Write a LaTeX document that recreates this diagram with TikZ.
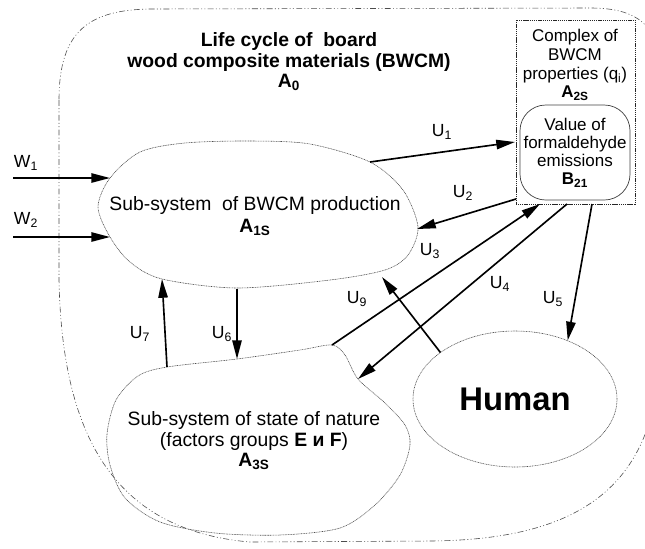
\documentclass[tikz,border=0pt]{standalone}
\usepackage{fontspec}
\setmainfont{Liberation Sans}
\usetikzlibrary{arrows.meta,shapes.geometric,positioning}

\begin{document}
\begin{tikzpicture}[
    x=0.03cm, y=-0.03cm,
    blob/.style={draw=black!70, line width=0.5pt, dash pattern=on 0.8pt off 0.6pt},
    flow/.style={-{Triangle[length=16pt, width=8pt]}, line width=1.4pt},
    lbl/.style={inner sep=0pt, font=\fontsize{15}{17}\selectfont},
    txt/.style={align=center, inner sep=0pt, font=\fontsize{16.5}{19.5}\selectfont}
]
    \clip (0,0) rectangle (645,548);

    % boundary of the whole life cycle
    \draw[black!70, line width=0.5pt, dash pattern=on 5pt off 2pt on 0.8pt off 2pt on 0.8pt off 2pt]
        (59,100) -- (59,280) .. controls (62,430) and (110,530) .. (250,542)
        -- (430,541) .. controls (560,540) and (635,500) .. (655,400)
        -- (660,60) .. controls (655,20) and (630,8) .. (590,8)
        -- (150,9) .. controls (90,10) and (59,30) .. (59,100);

    \node[txt, font=\fontsize{16.5}{17.5}\selectfont\bfseries] (title) at (289,62)
        {Life cycle of~ board\\wood composite materials (BWCM)\\A\textsubscript{0}};

    % production sub-system
    \draw[blob] plot[smooth cycle] coordinates {
        (98,207) (110,178) (140,152) (185,143) (250,141) (310,144) (370,162)
        (403,190) (418,227) (408,255) (385,270) (330,280) (237,288) (162,279)
        (130,262) (110,237)};
    \node[txt] (a1s) at (255,216)
        {Sub-system~ of BWCM production\\\textbf{A\textsubscript{1S}}};

    % state of nature sub-system
    \draw[blob] plot[smooth cycle] coordinates {
        (167,367) (237,359) (300,350) (332,345) (345,355) (358,379) (385,403)
        (405,425) (410,445) (400,475) (375,505) (340,528) (280,535) (215,533)
        (160,522) (125,498) (110,465) (107,434) (116,400) (138,376)};
    \node[txt, font=\fontsize{16.5}{17.5}\selectfont] (a3s) at (254,441)
        {Sub-system of state of nature\\(factors groups \textbf{E и F})\\\textbf{A\textsubscript{3S}}};

    \node[ellipse, blob, minimum width=6.12cm, minimum height=4.08cm, inner sep=0pt,
        font=\fontsize{28}{30}\selectfont\bfseries] (human) at (515,399) {Human};

    % properties box with the emission value inside
    \node[draw=black!85, line width=0.8pt, dash pattern=on 1pt off 0.6pt,
        minimum width=3.57cm, minimum height=5.52cm] (a2s) at (575.5,112) {};
    \node[txt, font=\fontsize{14.5}{16}\selectfont] (a2stext) at (575,65)
        {Complex of\\BWCM\\properties (q\textsubscript{i})\\\textbf{A\textsubscript{2S}}};
    \node[draw=black!75, line width=0.6pt, rounded corners=22pt, minimum width=3.3cm,
        minimum height=2.85cm, txt, font=\fontsize{14.5}{15.5}\selectfont] (b21) at (575,152.5)
        {Value of\\formaldehyde\\emissions\\\textbf{B\textsubscript{21}}};

    % connector ends
    \coordinate (w1) at (13,178);
    \coordinate (w2) at (13,237);
    \coordinate (a1w1) at (110,178);
    \coordinate (a1w2) at (110,237);
    \coordinate (a1u1) at (370,162);
    \coordinate (a1u2) at (417,229);
    \coordinate (a1u6) at (237,289);
    \coordinate (a1u7) at (162,279);
    \coordinate (a1u9) at (382,277);
    \coordinate (a3u3) at (332,345);
    \coordinate (a3u4) at (358,379);
    \coordinate (a3u6) at (237,359);
    \coordinate (a3u7) at (167,367);
    \coordinate (a2su1) at (515,142);
    \coordinate (a2su2) at (516,199);
    \coordinate (a2su3) at (540,204);
    \coordinate (a2su4) at (567,204);
    \coordinate (a2su5) at (592,204);

    \draw[flow] (w1) -- (a1w1);
    \draw[flow] (w2) -- (a1w2);
    \draw[flow] (a1u1) -- (a2su1);
    \draw[flow] (a2su2) -- (a1u2);
    \draw[flow] (a3u3) -- (a2su3);
    \draw[flow] (a2su4) -- (a3u4);
    \draw[flow] (a2su5) -- (human.48.5);
    \draw[flow] (a1u6) -- (a3u6);
    \draw[flow] (a3u7) -- (a1u7);
    \draw[flow] (human.148) -- (a1u9);

    % flow labels
    \node[lbl] (lw1) at (26,163) {W\textsubscript{1}};
    \node[lbl] (lw2) at (26,220) {W\textsubscript{2}};
    \node[lbl] (lu1) at (442,132) {U\textsubscript{1}};
    \node[lbl] (lu2) at (463,193) {U\textsubscript{2}};
    \node[lbl] (lu3) at (430,251) {U\textsubscript{3}};
    \node[lbl] (lu4) at (500,284) {U\textsubscript{4}};
    \node[lbl] (lu5) at (553,299) {U\textsubscript{5}};
    \node[lbl] (lu6) at (222,334) {U\textsubscript{6}};
    \node[lbl] (lu7) at (140,334) {U\textsubscript{7}};
    \node[lbl] (lu9) at (357,299) {U\textsubscript{9}};
\end{tikzpicture}
\end{document}
